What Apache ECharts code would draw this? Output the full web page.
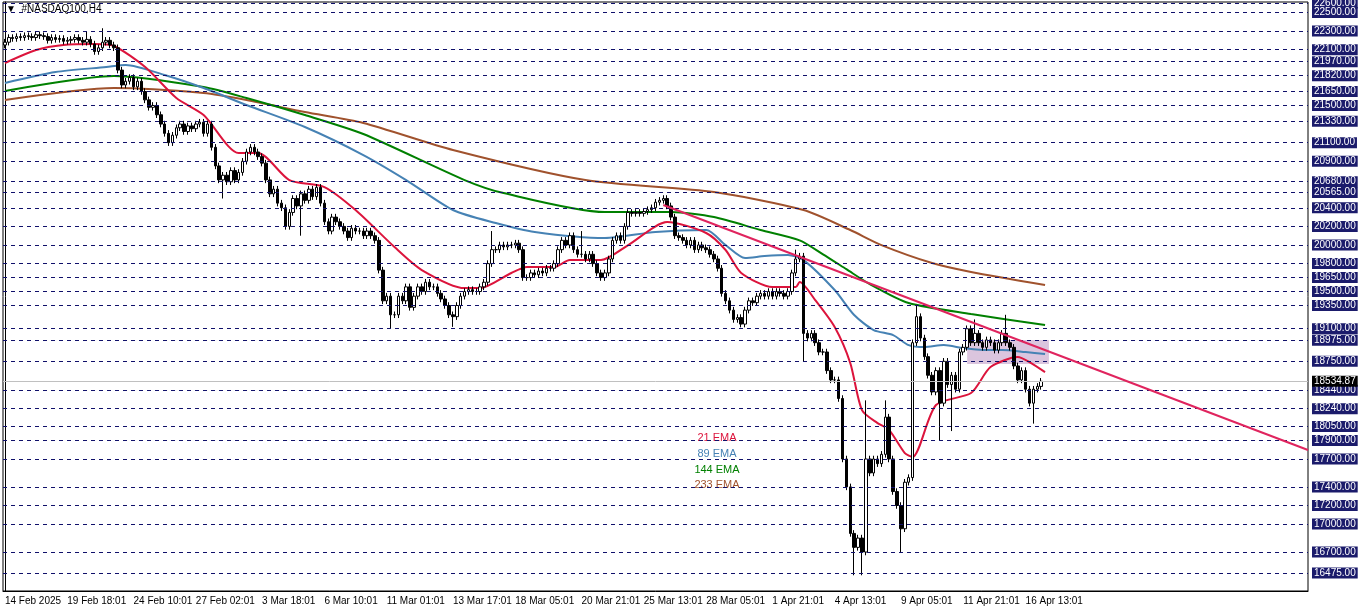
<!DOCTYPE html>
<html><head><meta charset="utf-8">
<script src="https://cdn.jsdelivr.net/npm/echarts@6/dist/echarts.min.js"></script>
<style>html,body{margin:0;padding:0;background:#fff}#c{width:1362px;height:611px}</style>
</head><body><div id="c"></div>
<script>
const timeLabels = ['14 Feb 2025','19 Feb 18:01','24 Feb 10:01','27 Feb 02:01','3 Mar 18:01','6 Mar 10:01','11 Mar 01:01','13 Mar 17:01','18 Mar 05:01','20 Mar 21:01','25 Mar 13:01','28 Mar 05:01','1 Apr 21:01','4 Apr 13:01','9 Apr 05:01','11 Apr 21:01','16 Apr 13:01'];
const timeLabelIdx = [0,16,33,49,66,82,98,115,131,148,164,180,197,213,230,246,262];
const closes = [
22180,22230,22220,22240,22230,22250,22240,22230,22260,22250,
22240,22200,22230,22210,22220,22190,22200,22210,22230,22200,
22180,22210,22160,22080,22120,22180,22200,22150,22120,21880,
21720,21760,21800,21700,21760,21650,21560,21480,21500,21400,
21300,21200,21100,21180,21260,21300,21220,21280,21250,21300,
21320,21200,21300,21050,20850,20700,20750,20680,20800,20700,
20780,20900,21000,21050,21000,20950,20880,20700,20550,20600,
20450,20400,20200,20350,20500,20420,20550,20480,20600,20520,
20620,20450,20250,20150,20300,20250,20200,20150,20080,20180,
20150,20150,20100,20150,20100,20050,19730,19400,19450,19250,
19250,19450,19400,19550,19330,19450,19550,19500,19600,19550,
19550,19480,19420,19350,19250,19230,19350,19450,19500,19520,
19500,19500,19550,19600,19800,19950,19950,20000,19980,20000,
20000,20020,19950,19650,19650,19700,19680,19720,19700,19750,
19750,19800,19950,20050,20000,20100,19950,19900,19900,19850,
19900,19800,19700,19650,19700,19850,20050,20100,20050,20200,
20350,20340,20350,20340,20360,20380,20400,20460,20480,20500,
20420,20300,20100,20080,20050,20000,20050,19950,20000,19970,
19950,19900,19850,19750,19480,19400,19300,19200,19220,19150,
19300,19400,19380,19450,19480,19450,19500,19450,19500,19480,
19450,19500,19700,19850,19880,19050,19000,19050,18950,18850,
18850,18650,18550,18550,18350,17700,17400,16900,16750,16850,
16700,17700,17550,17700,17650,17750,18150,17700,17350,17200,
16950,17450,17500,18950,19230,19000,18800,18600,18420,18650,
18300,18750,18500,18600,18450,18850,18900,19100,18950,19050,
18950,18900,18980,18950,18870,18950,19050,18950,18900,18700,
18550,18650,18450,18300,18450,18480,18535
];
const firstOpen = 22150;
const wickPad = 35;
// notable wick extremes: index -> [high, low]
const wickSpikes = {21:[22290,null],25:[22330,null],56:[null,20500],76:[null,20100],99:[null,19100],115:[null,19120],125:[20150,null],148:[20150,null],203:[19950,null],205:[null,18750],218:[null,16450],220:[null,16450],221:[18330,null],226:[18330,null],230:[null,16700],234:[19350,null],240:[null,17900],243:[null,18000],249:[19200,null],257:[19250,null],264:[null,18080]};
const ema21 = [[0,21956],[8,22096],[15,22150],[23,22160],[28,22139],[36,21913],[44,21580],[51,21397],[60,20989],[65,20989],[73,20698],[82,20623],[90,20376],[100,19978],[107,19731],[118,19537],[122,19537],[130,19699],[134,19763],[141,19763],[145,19838],[153,19838],[160,19999],[170,20247],[180,20129],[185,19946],[189,19699],[197,19548],[203,19548],[204,19602],[208,19408],[213,19118],[217,18731],[220,18226],[224,18086],[227,18011],[231,17764],[233,17721],[239,18280],[248,18409],[253,18688],[260,18796],[263,18742],[267,18634]];
const ema89 = [[0,21741],[13,21859],[26,21913],[31,21935],[41,21827],[51,21687],[62,21505],[77,21268],[92,20967],[103,20698],[115,20376],[126,20236],[136,20140],[154,20075],[167,20140],[180,20161],[185,19999],[190,19860],[195,19881],[201,19892],[205,19838],[213,19516],[218,19247],[223,19086],[228,19032],[232,18924],[236,18903],[241,18924],[246,18892],[251,18871],[256,18871],[262,18849],[267,18828]];
const ema144 = [[0,21655],[28,21816],[51,21698],[62,21580],[77,21397],[92,21193],[118,20698],[128,20558],[154,20354],[171,20354],[182,20300],[194,20161],[204,20050],[210,19900],[216,19740],[222,19580],[232,19376],[248,19258],[267,19140]];
const ema233 = [[0,21558],[28,21687],[51,21633],[62,21558],[77,21429],[92,21311],[115,21021],[149,20698],[182,20569],[205,20376],[217,20161],[225,19999],[238,19806],[248,19710],[267,19570]];
const trendLine = [[169,20430],[334.5,17796]];
const zoneBox = [[247,18978],[268,18720]];
const levels = [22600,22500,22300,22100,21970,21820,21650,21500,21330,21100,20900,20680,20565,20400,20200,20000,19800,19650,19500,19350,19100,18975,18750,18440,18240,18050,17900,17700,17400,17200,17000,16700,16475];
const plainLevels = [19886.30,19180.10,18827.00,18110.10,17757.00,16344.60];
const lastPrice = 18534.87;

const NCAT = 335;
const cats = new Array(NCAT).fill('');
timeLabelIdx.forEach((ix,k)=>{cats[ix]=timeLabels[k];});
const tickSet = new Set(timeLabelIdx);
const candles = closes.map((c,i)=>{
  const o = i===0 ? firstOpen : closes[i-1];
  let hi = Math.max(o,c)+wickPad, lo = Math.min(o,c)-wickPad;
  const s = wickSpikes[i];
  if (s){ if (s[0]!==null) hi=s[0]; if (s[1]!==null) lo=s[1]; }
  return [o,c,lo,hi];
});
const F = 'Liberation Sans';
const NAVY = '#1b1b6b';
const lvlData = levels.map(v=>({yAxis:v,label:{formatter:v.toFixed(2),backgroundColor:NAVY,color:'#fff'}}));
const plainData = plainLevels.map(v=>({yAxis:v,lineStyle:{opacity:0},label:{formatter:v.toFixed(2),color:'#000',backgroundColor:'#fff'}}));
const emaLine = (d,col)=>({type:'line',xAxisIndex:1,data:d,symbol:'none',smooth:0.25,lineStyle:{color:col,width:2},z:3,silent:true});

const chart = echarts.init(document.getElementById('c'));
chart.setOption({
  animation:false,
  grid:{left:3,right:54,top:2,bottom:20,show:true,borderColor:'#000',borderWidth:1},
  xAxis:[
    {type:'category',data:cats,boundaryGap:true,
     axisLine:{lineStyle:{color:'#000'}},
     axisTick:{interval:(i)=>tickSet.has(i),length:3,lineStyle:{color:'#000'}},
     axisLabel:{interval:0,color:'#000',fontFamily:F,fontSize:10,align:'left',margin:5},splitLine:{show:false}},
    {type:'value',min:-0.5,max:NCAT-0.5,show:false}
  ],
  yAxis:{type:'value',min:16281,max:22612,position:'right',axisLabel:{show:false},axisTick:{show:false},splitLine:{show:false},axisLine:{show:true,lineStyle:{color:'#000'}}},
  graphic:[
    {type:'text',left:6,top:4,style:{text:'▼  #NASDAQ100,H4',fontFamily:F,fontSize:10,fill:'#000'}},
    {type:'text',x:717,y:432,style:{text:'21 EMA',fontFamily:F,fontSize:11,fill:'#dc143c',align:'center'}},
    {type:'text',x:717,y:448,style:{text:'89 EMA',fontFamily:F,fontSize:11,fill:'#4682b4',align:'center'}},
    {type:'text',x:717,y:464,style:{text:'144 EMA',fontFamily:F,fontSize:11,fill:'#008000',align:'center'}},
    {type:'text',x:717,y:479,style:{text:'233 EMA',fontFamily:F,fontSize:11,fill:'#a0522d',align:'center'}}
  ],
  series:[
    {type:'candlestick',data:candles,barWidth:3,z:4,
     itemStyle:{color:'#fff',color0:'#000',borderColor:'#000',borderColor0:'#000',borderWidth:1},
     markLine:{silent:true,symbol:'none',animation:false,
       lineStyle:{color:'#10106a',type:[4,4],width:1},
       label:{position:'end',distance:4,fontFamily:F,fontSize:10,padding:[1,2,0,2]},
       data:[...plainData,...lvlData,
         {yAxis:lastPrice,lineStyle:{color:'#c0c0c0',type:'solid',width:1},label:{formatter:lastPrice.toFixed(2),backgroundColor:'#000',color:'#fff'}}]}
    },
    emaLine(ema233,'#a0522d'),
    emaLine(ema144,'#008000'),
    emaLine(ema89,'#4682b4'),
    emaLine(ema21,'#dc143c'),
    {type:'line',xAxisIndex:1,data:[],z:2,
     markArea:{silent:true,itemStyle:{color:'rgba(190,150,195,0.55)'},data:[[{coord:zoneBox[0]},{coord:zoneBox[1]}]]},
     markLine:{silent:true,symbol:'none',lineStyle:{color:'#e0245e',width:2,type:'solid'},label:{show:false},
       data:[[{coord:trendLine[0]},{coord:trendLine[1]}]]}}
  ]
});
</script></body></html>
